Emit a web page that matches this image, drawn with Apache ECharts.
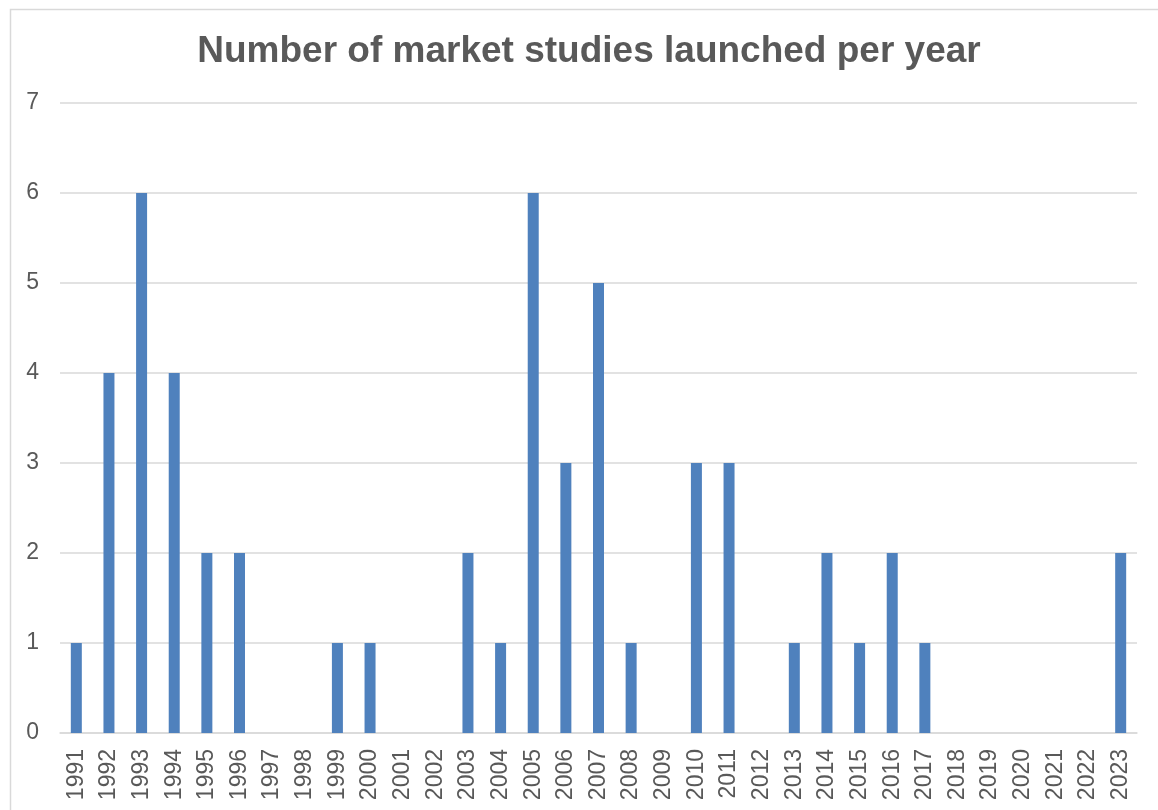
<!DOCTYPE html>
<html>
<head>
<meta charset="utf-8">
<script src="https://cdn.jsdelivr.net/npm/echarts@6/dist/echarts.min.js"></script>
<style>
html,body{margin:0;padding:0;background:#fff;}
#chart{width:1158px;height:810px;}
</style>
</head>
<body>
<div id="chart"></div>
<script>
const titleText = "Number of market studies launched per year";
const years = ["1991","1992","1993","1994","1995","1996","1997","1998","1999","2000","2001","2002","2003","2004","2005","2006","2007","2008","2009","2010","2011","2012","2013","2014","2015","2016","2017","2018","2019","2020","2021","2022","2023"];
const studies = [1,4,6,4,2,2,0,0,1,1,0,0,2,1,6,3,5,1,0,3,3,0,1,2,1,2,1,0,0,0,0,0,2];
const yTicks = {min:0, max:7, interval:1};

const chart = echarts.init(document.getElementById('chart'), null, {renderer:'canvas'});
const font = '"Liberation Sans", Arial, sans-serif';
chart.setOption({
  animation:false,
  backgroundColor:'#fff',
  graphic:[{
    type:'rect', left:8, top:7, z:-1,
    shape:{width:1200, height:900},
    style:{fill:'none', stroke:'#d9d9d9', lineWidth:1.5}
  }],
  title:{
    text:titleText, left:584, textAlign:'center', top:28,
    textStyle:{fontFamily:font, fontSize:37, fontWeight:'bold', color:'#595959'}
  },
  grid:{left:60, right:21, top:103, bottom:77, containLabel:false},
  xAxis:{
    type:'category', data:years,
    axisLine:{lineStyle:{color:'#d9d9d9', width:1.5}},
    axisTick:{show:false},
    axisLabel:{rotate:90, margin:16, fontFamily:font, fontSize:23, color:'#595959', interval:0}
  },
  yAxis:{
    type:'value', min:yTicks.min, max:yTicks.max, interval:yTicks.interval,
    axisLine:{show:false}, axisTick:{show:false},
    splitLine:{lineStyle:{color:'#d9d9d9', width:1.5}},
    axisLabel:{margin:21, fontFamily:font, fontSize:23, color:'#595959'}
  },
  series:[{
    type:'bar', data:studies, barWidth:11,
    itemStyle:{color:'#4F81BD'}
  }]
});
</script>
</body>
</html>
